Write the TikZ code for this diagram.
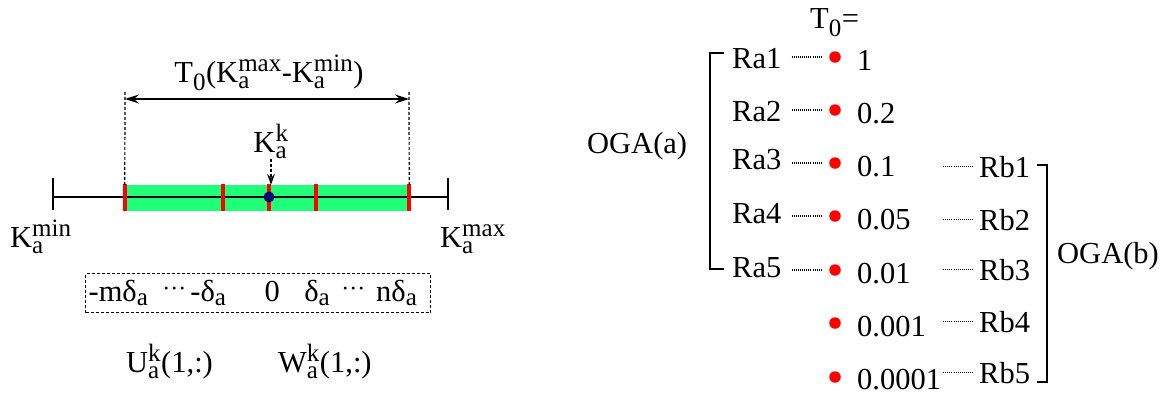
\documentclass[tikz,border=0pt]{standalone}
\usepackage{amsmath}
\usepackage{fontspec}
\setmainfont{Liberation Serif}
\usetikzlibrary{arrows.meta}
\DeclareMathSizes{30.5}{30.5}{25}{20}
\definecolor{bandgreen}{RGB}{32,255,120}
\definecolor{knavy}{RGB}{0,0,110}
\newcommand{\Kvar}[1]{$\text{K}^{\text{#1}}_{\text{a}}$}
\newcommand{\dela}{δ$_{\text{a}}$}
\newcommand{\cdotsx}{\raisebox{5pt}{\fontsize{24}{24}\selectfont ···}}
\begin{document}
\begin{tikzpicture}[
    x=1pt, y=-1pt,
    lbl/.style={font=\fontsize{30.5}{36}\selectfont, inner sep=0pt},
    axis/.style={line width=1.6pt},
    band/.style={rectangle, fill=bandgreen, minimum width=284pt, minimum height=26pt, inner sep=0pt},
    redtick/.style={red, line width=3.5pt},
    guide/.style={dash pattern=on 3pt off 2pt, line width=1.2pt},
    spanarrow/.style={line width=1.4pt, {Stealth[length=14pt,width=9pt,inset=5pt]}-{Stealth[length=14pt,width=9pt,inset=5pt]}},
    kdown/.style={guide, -{Stealth[length=11pt,width=8pt,inset=4pt]}},
    offbox/.style={lbl, draw, dash pattern=on 3pt off 2pt, line width=1.2pt, text width=339pt, align=left, minimum height=39pt, inner xsep=3pt},
    rdot/.style={circle, fill=red, inner sep=0pt, minimum size=11.5pt},
    dotline/.style={line width=1.2pt, dash pattern=on 1pt off 1.1pt},
    brk/.style={line width=1.6pt}
]
\useasboundingbox (0,0) rectangle (1171,392);

% Left: search interval on the axis
\node[band] (band) at (267,198) {};
\coordinate (lmin) at (53,197);
\coordinate (lmax) at (448,197);
\draw[axis] (lmin) -- (lmax);
\draw[axis] (53,178) -- (53,210);
\draw[axis] (448,178) -- (448,210);
\draw[redtick] (125,184) -- (125,211);
\draw[redtick] (223,184) -- (223,211);
\draw[redtick] (269,184) -- (269,211);
\draw[redtick] (316,184) -- (316,211);
\draw[redtick] (409,184) -- (409,211);
\node[circle, fill=knavy, inner sep=0pt, minimum size=11pt] (kdot) at (269,197) {};

% Width of the interval
\coordinate (gl) at (125,90);
\coordinate (gr) at (409,90);
\draw[guide] (band.north west) -- (gl);
\draw[guide] (band.north east) -- (gr);
\draw[spanarrow] (125,99) -- (409,99);
\node[lbl, anchor=base] (spanlbl) at (269,82) {$\text{T}_{\text{0}}$(\Kvar{max}-\Kvar{min})};

% Labels on the axis
\node[lbl, anchor=base] (kk) at (271,152) {\Kvar{k}};
\draw[kdown] (kk.south) -- (kk.south |- band.north);
\node[lbl, anchor=base west] (kmin) at (10,247) {\Kvar{min}};
\node[lbl, anchor=base west] (kmax) at (440,247) {\Kvar{max}};

% Offsets and vectors
\node[offbox, anchor=north west] (offsets) at (85,273) {-m\dela\hspace{14pt}\cdotsx\hspace{4pt}-\dela\hspace{38pt}0\hspace{24.5pt}\dela\hspace{11pt}\cdotsx\hspace{11pt}n\dela};
\node[lbl, anchor=base west] (uvec) at (126,372) {$\text{U}^{\text{k}}_{\text{a}}$(1,:)};
\node[lbl, anchor=base west] (wvec) at (278,372) {$\text{W}^{\text{k}}_{\text{a}}$(1,:)};

% Right: T0 values
\node[lbl, anchor=base west] (t0) at (810,28) {$\text{T}_{\text{0}}$=};
\node[rdot] (d1) at (835,57) {};
\node[rdot] (d2) at (835,110) {};
\node[rdot] (d3) at (835,163) {};
\node[rdot] (d4) at (835,216) {};
\node[rdot] (d5) at (835,270) {};
\node[rdot] (d6) at (835,323) {};
\node[rdot] (d7) at (835,377) {};
\node[lbl, anchor=base west] (v1) at (857,70) {1};
\node[lbl, anchor=base west] (v2) at (857,123) {0.2};
\node[lbl, anchor=base west] (v3) at (857,176) {0.1};
\node[lbl, anchor=base west] (v4) at (857,229) {0.05};
\node[lbl, anchor=base west] (v5) at (857,283) {0.01};
\node[lbl, anchor=base west] (v6) at (857,336) {0.001};
\node[lbl, anchor=base west] (v7) at (857,389) {0.0001};

% OGA(a) runs
\node[lbl, anchor=base west] (ra1) at (732,68) {Ra1};
\node[lbl, anchor=base west] (ra2) at (732,121) {Ra2};
\node[lbl, anchor=base west] (ra3) at (732,169) {Ra3};
\node[lbl, anchor=base west] (ra4) at (732,223) {Ra4};
\node[lbl, anchor=base west] (ra5) at (732,277) {Ra5};
\draw[dotline, shorten <=10pt, shorten >=8pt] (ra1.east |- d1) -- (d1.west);
\draw[dotline, shorten <=10pt, shorten >=8pt] (ra2.east |- d2) -- (d2.west);
\draw[dotline, shorten <=10pt, shorten >=8pt] (ra3.east |- d3) -- (d3.west);
\draw[dotline, shorten <=10pt, shorten >=8pt] (ra4.east |- d4) -- (d4.west);
\draw[dotline, shorten <=10pt, shorten >=8pt] (ra5.east |- d5) -- (d5.west);
\draw[brk] (724,53) -- (710,53) -- (710,269) -- (724,269);
\node[lbl, anchor=base west] (ogaa) at (587,153) {OGA(a)};

% OGA(b) runs
\node[lbl, anchor=base west] (rb1) at (979,177) {Rb1};
\node[lbl, anchor=base west] (rb2) at (979,230) {Rb2};
\node[lbl, anchor=base west] (rb3) at (979,280) {Rb3};
\node[lbl, anchor=base west] (rb4) at (979,332) {Rb4};
\node[lbl, anchor=base west] (rb5) at (979,383) {Rb5};
\draw[dotline] ([xshift=-36pt]rb1.west) -- ([xshift=-6pt]rb1.west);
\draw[dotline] ([xshift=-36pt]rb2.west) -- ([xshift=-6pt]rb2.west);
\draw[dotline] ([xshift=-36pt]rb3.west) -- ([xshift=-6pt]rb3.west);
\draw[dotline] ([xshift=-36pt]rb4.west) -- ([xshift=-6pt]rb4.west);
\draw[dotline] ([xshift=-36pt]rb5.west) -- ([xshift=-6pt]rb5.west);
\draw[brk] (1037,165) -- (1047,165) -- (1047,382) -- (1037,382);
\node[lbl, anchor=base west] (ogab) at (1057,263) {OGA(b)};

\end{tikzpicture}
\end{document}
